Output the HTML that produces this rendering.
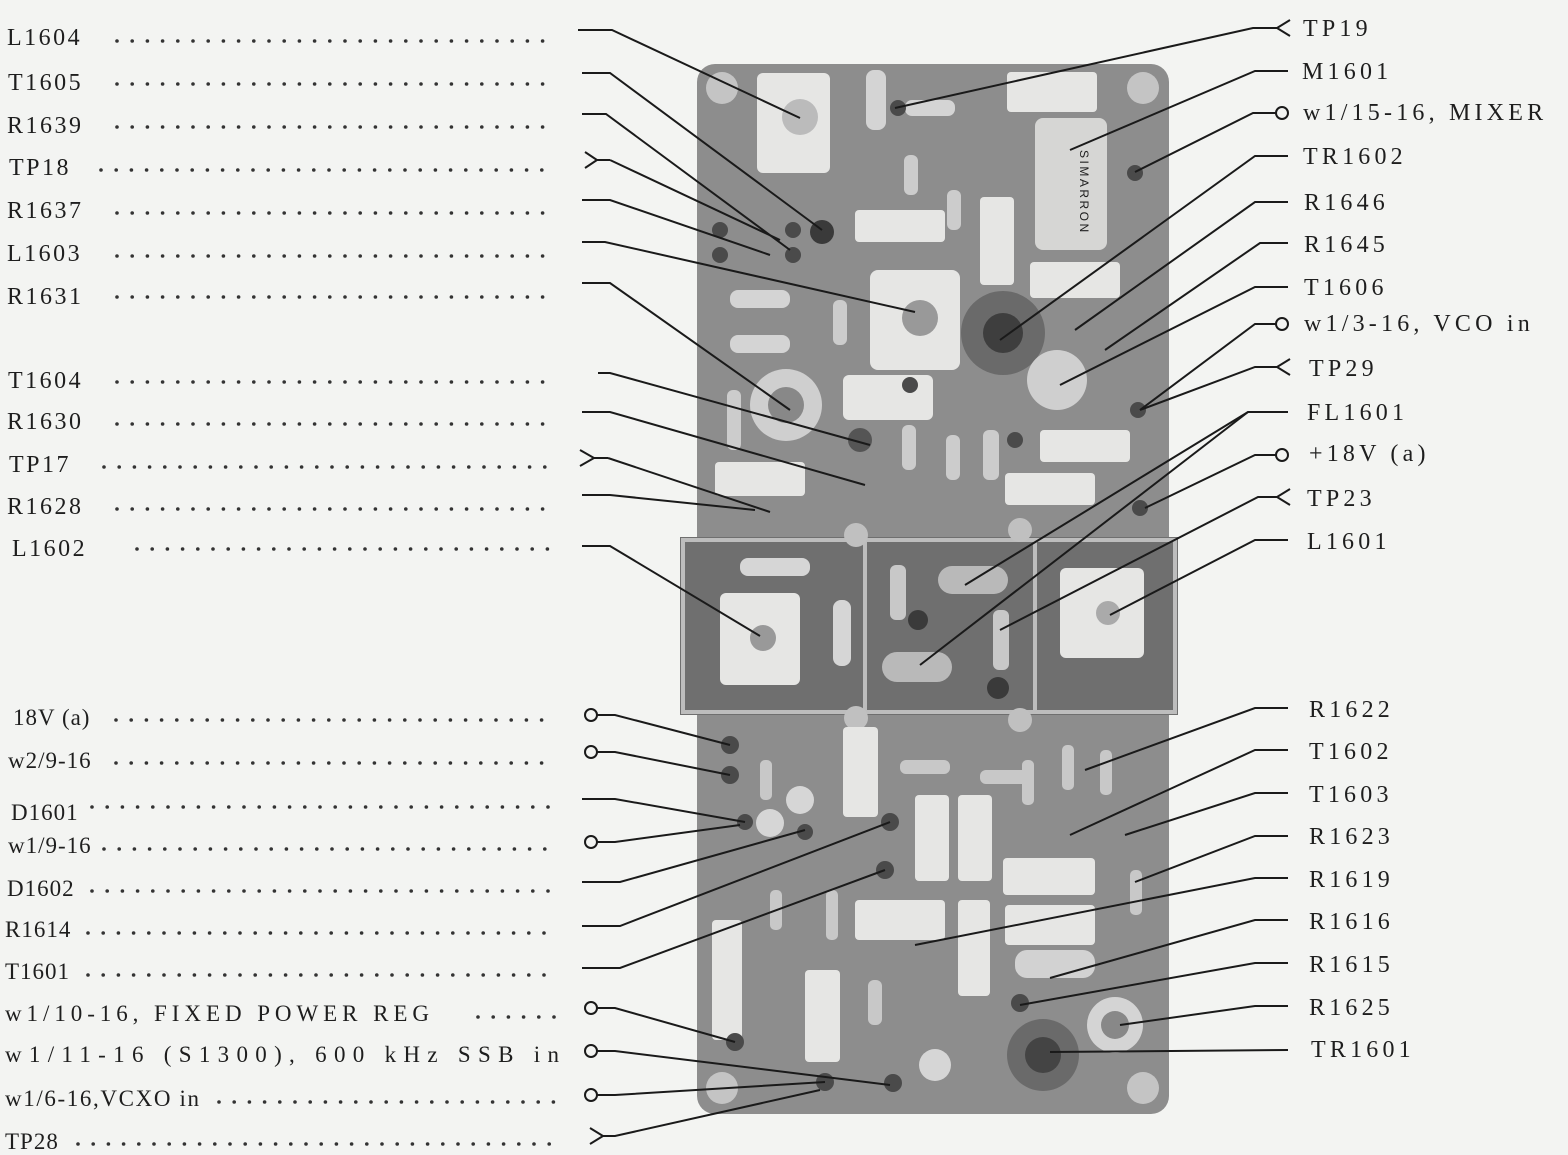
<!DOCTYPE html>
<html><head><meta charset="utf-8"><style>
html,body{margin:0;padding:0;background:#f3f4f2;}
svg{display:block}
text{font-family:"Liberation Serif",serif;font-size:24px;fill:#1e1e1e;letter-spacing:2.5px}
.b text{font-size:23px;letter-spacing:1px}
.r text{letter-spacing:4.2px}
.d{stroke:#333;stroke-width:3.6;stroke-linecap:round;stroke-dasharray:0 15.2}
.l{stroke:#1a1a1a;stroke-width:2;fill:none}
.w{fill:#e6e6e4}
.h{fill:#3a3a3a}
</style></head><body>
<svg width="1568" height="1155" viewBox="0 0 1568 1155">
<rect width="1568" height="1155" fill="#f3f4f2"/>
<!-- board -->
<rect x="697" y="64" width="472" height="1050" rx="18" fill="#8d8d8d"/>
<circle cx="722" cy="88" r="16" fill="#c4c4c4"/><circle cx="1143" cy="88" r="16" fill="#c4c4c4"/>
<circle cx="722" cy="1088" r="16" fill="#c4c4c4"/><circle cx="1143" cy="1088" r="16" fill="#c4c4c4"/>
<rect class="w" x="757" y="73" width="73" height="100" rx="6"/>
<circle cx="800" cy="117" r="18" fill="#bbb"/>
<rect x="1035" y="118" width="72" height="132" rx="8" fill="#d6d6d4"/>
<text x="1080" y="150" transform="rotate(90 1080 150)" style="font-size:12px;font-family:'Liberation Sans',sans-serif">SIMARRON</text>
<rect class="w" x="1007" y="72" width="90" height="40" rx="4"/>
<rect class="w" x="855" y="210" width="90" height="32" rx="4"/>
<rect class="w" x="980" y="197" width="34" height="88" rx="4"/>
<rect class="w" x="1030" y="262" width="90" height="36" rx="4"/>
<rect class="w" x="870" y="270" width="90" height="100" rx="8"/>
<circle cx="920" cy="318" r="18" fill="#999"/>
<circle cx="1003" cy="333" r="42" fill="#6a6a6a"/><circle cx="1003" cy="333" r="20" fill="#3e3e3e"/>
<circle cx="1057" cy="380" r="30" fill="#cfcfcf"/>
<circle cx="786" cy="405" r="36" fill="#cfcfcf"/><circle cx="786" cy="405" r="18" fill="#888"/>
<rect class="w" x="843" y="375" width="90" height="45" rx="6"/>
<rect class="w" x="1040" y="430" width="90" height="32" rx="4"/>
<rect class="w" x="715" y="462" width="90" height="34" rx="4"/>
<rect class="w" x="1005" y="473" width="90" height="32" rx="4"/>
<rect x="730" y="290" width="60" height="18" rx="8" fill="#d4d4d4"/>
<rect x="730" y="335" width="60" height="18" rx="8" fill="#d4d4d4"/>
<rect x="905" y="100" width="50" height="16" rx="7" fill="#d4d4d4"/>
<rect x="866" y="70" width="20" height="60" rx="8" fill="#d4d4d4"/>
<rect x="904" y="155" width="14" height="40" rx="6" fill="#ccc"/>
<rect x="947" y="190" width="14" height="40" rx="6" fill="#ccc"/>
<rect x="833" y="300" width="14" height="45" rx="6" fill="#ccc"/>
<rect x="902" y="425" width="14" height="45" rx="6" fill="#ccc"/>
<rect x="946" y="435" width="14" height="45" rx="6" fill="#ccc"/>
<rect x="983" y="430" width="16" height="50" rx="6" fill="#ccc"/>
<rect x="727" y="390" width="14" height="60" rx="6" fill="#ccc"/>
<circle cx="822" cy="232" r="12" class="h"/><circle cx="860" cy="440" r="12" fill="#555"/>
<g fill="#4a4a4a"><circle cx="720" cy="230" r="8"/><circle cx="720" cy="255" r="8"/><circle cx="793" cy="230" r="8"/><circle cx="793" cy="255" r="8"/><circle cx="898" cy="108" r="8"/><circle cx="1135" cy="173" r="8"/><circle cx="1138" cy="410" r="8"/><circle cx="1140" cy="508" r="8"/><circle cx="910" cy="385" r="8"/><circle cx="1015" cy="440" r="8"/></g>
<!-- shield box -->
<rect x="680" y="537" width="498" height="178" fill="#6f6f6f"/>
<rect x="683" y="540" width="492" height="172" fill="none" stroke="#bdbdbd" stroke-width="4"/>
<line x1="865" y1="540" x2="865" y2="712" stroke="#bdbdbd" stroke-width="4"/>
<line x1="1035" y1="540" x2="1035" y2="712" stroke="#bdbdbd" stroke-width="4"/>
<rect class="w" x="720" y="593" width="80" height="92" rx="6"/>
<circle cx="763" cy="638" r="13" fill="#999"/>
<rect class="w" x="1060" y="568" width="84" height="90" rx="6"/>
<circle cx="1108" cy="613" r="12" fill="#aaa"/>
<rect x="740" y="558" width="70" height="18" rx="8" fill="#d6d6d6"/>
<rect x="833" y="600" width="18" height="66" rx="8" fill="#d6d6d6"/>
<rect x="890" y="565" width="16" height="55" rx="6" fill="#c8c8c8"/>
<rect x="938" y="566" width="70" height="28" rx="14" fill="#b9b9b9"/>
<rect x="882" y="652" width="70" height="30" rx="15" fill="#b9b9b9"/>
<rect x="993" y="610" width="16" height="60" rx="6" fill="#c8c8c8"/>
<circle cx="918" cy="620" r="10" class="h"/><circle cx="998" cy="688" r="11" class="h"/>
<circle cx="856" cy="535" r="12" fill="#c0c0c0"/><circle cx="1020" cy="530" r="12" fill="#c0c0c0"/>
<circle cx="856" cy="718" r="12" fill="#c0c0c0"/><circle cx="1020" cy="720" r="12" fill="#c0c0c0"/>
<!-- bottom components -->
<rect class="w" x="843" y="727" width="35" height="90" rx="4"/>
<rect class="w" x="915" y="795" width="34" height="86" rx="4"/>
<rect class="w" x="958" y="795" width="34" height="86" rx="4"/>
<rect class="w" x="1003" y="858" width="92" height="37" rx="4"/>
<rect class="w" x="855" y="900" width="90" height="40" rx="4"/>
<rect class="w" x="958" y="900" width="32" height="96" rx="4"/>
<rect class="w" x="1005" y="905" width="90" height="40" rx="4"/>
<rect class="w" x="805" y="970" width="35" height="92" rx="4"/>
<rect class="w" x="712" y="920" width="30" height="120" rx="4"/>
<rect x="1015" y="950" width="80" height="28" rx="12" fill="#d2d2d2"/>
<circle cx="1115" cy="1025" r="28" fill="#d4d4d4"/><circle cx="1115" cy="1025" r="14" fill="#888"/>
<circle cx="1043" cy="1055" r="36" fill="#6a6a6a"/><circle cx="1043" cy="1055" r="18" fill="#444"/>
<circle cx="770" cy="823" r="14" fill="#d6d6d6"/><circle cx="800" cy="800" r="14" fill="#d6d6d6"/>
<circle cx="935" cy="1065" r="16" fill="#d6d6d6"/>
<g fill="#c8c8c8"><rect x="760" y="760" width="12" height="40" rx="5"/><rect x="1022" y="760" width="12" height="45" rx="5"/><rect x="1062" y="745" width="12" height="45" rx="5"/><rect x="1100" y="750" width="12" height="45" rx="5"/><rect x="900" y="760" width="50" height="14" rx="6"/><rect x="980" y="770" width="50" height="14" rx="6"/><rect x="868" y="980" width="14" height="45" rx="6"/><rect x="770" y="890" width="12" height="40" rx="5"/><rect x="826" y="890" width="12" height="50" rx="5"/><rect x="1130" y="870" width="12" height="45" rx="5"/></g>
<g fill="#4a4a4a"><circle cx="730" cy="745" r="9"/><circle cx="730" cy="775" r="9"/><circle cx="890" cy="822" r="9"/><circle cx="885" cy="870" r="9"/><circle cx="735" cy="1042" r="9"/><circle cx="893" cy="1083" r="9"/><circle cx="825" cy="1082" r="9"/><circle cx="1020" cy="1003" r="9"/><circle cx="745" cy="822" r="8"/><circle cx="805" cy="832" r="8"/></g>

<!-- left labels -->
<g>
<text x="7" y="45">L1604</text><line class="d" x1="117" y1="41" x2="555" y2="41"/>
<text x="8" y="90">T1605</text><line class="d" x1="117" y1="84" x2="555" y2="84"/>
<text x="7" y="133">R1639</text><line class="d" x1="117" y1="127" x2="555" y2="127"/>
<text x="9" y="175">TP18</text><line class="d" x1="101" y1="170" x2="555" y2="170"/>
<text x="7" y="218">R1637</text><line class="d" x1="117" y1="213" x2="555" y2="213"/>
<text x="7" y="261">L1603</text><line class="d" x1="117" y1="256" x2="555" y2="256"/>
<text x="7" y="304">R1631</text><line class="d" x1="117" y1="297" x2="555" y2="297"/>
<text x="8" y="388">T1604</text><line class="d" x1="117" y1="382" x2="555" y2="382"/>
<text x="7" y="429">R1630</text><line class="d" x1="117" y1="424" x2="555" y2="424"/>
<text x="9" y="472">TP17</text><line class="d" x1="104" y1="467" x2="555" y2="467"/>
<text x="7" y="514">R1628</text><line class="d" x1="117" y1="509" x2="555" y2="509"/>
<text x="12" y="556">L1602</text><line class="d" x1="137" y1="549" x2="560" y2="549"/>
</g>
<g class="b">
<text x="13" y="725">18V (a)</text><line class="d" x1="116" y1="720" x2="555" y2="720"/>
<text x="8" y="768">w2/9-16</text><line class="d" x1="116" y1="763" x2="555" y2="763"/>
<text x="11" y="820">D1601</text><line class="d" x1="92" y1="807" x2="555" y2="807"/>
<text x="8" y="853">w1/9-16</text><line class="d" x1="104" y1="849" x2="555" y2="849"/>
<text x="7" y="896">D1602</text><line class="d" x1="92" y1="891" x2="555" y2="891"/>
<text x="5" y="937">R1614</text><line class="d" x1="88" y1="933" x2="555" y2="933"/>
<text x="5" y="979">T1601</text><line class="d" x1="88" y1="975" x2="555" y2="975"/>
<text x="5" y="1021" textLength="425">w1/10-16, FIXED POWER REG</text><line class="d" x1="478" y1="1017" x2="555" y2="1017"/>
<text x="5" y="1062" textLength="555">w1/11-16 (S1300), 600 kHz SSB in</text>
<text x="5" y="1106" textLength="195">w1/6-16,VCXO in</text><line class="d" x1="219" y1="1102" x2="555" y2="1102"/>
<text x="5" y="1149">TP28</text><line class="d" x1="78" y1="1144" x2="555" y2="1144"/>
</g>
<!-- left connectors -->
<g class="l">
<polyline points="578,30 612,30 800,118"/>
<polyline points="582,73 610,73 822,230"/>
<polyline points="582,114 606,114 790,250"/>
<polyline points="610,160 780,240"/><path d="M585,152 L597,160 L585,168 M597,160 L610,160"/>
<polyline points="582,200 610,200 770,255"/>
<polyline points="582,242 605,242 915,312"/>
<polyline points="582,283 610,283 790,410"/>
<polyline points="598,373 610,373 870,445"/>
<polyline points="582,412 610,412 865,485"/>
<polyline points="608,458 770,512"/><path d="M580,450 L594,458 L580,466 M594,458 L608,458"/>
<polyline points="582,495 610,495 755,510"/>
<polyline points="582,546 610,546 760,636"/>
<circle cx="591" cy="715" r="6"/><polyline points="597,715 615,715 730,745"/>
<circle cx="591" cy="752" r="6"/><polyline points="597,752 615,752 730,775"/>
<polyline points="582,799 615,799 745,822"/>
<circle cx="591" cy="842" r="6"/><polyline points="597,842 615,842 740,825"/>
<polyline points="582,882 620,882 805,830"/>
<polyline points="582,926 620,926 890,822"/>
<polyline points="582,968 620,968 885,870"/>
<circle cx="591" cy="1008" r="6"/><polyline points="597,1008 615,1008 735,1042"/>
<circle cx="591" cy="1051" r="6"/><polyline points="597,1051 615,1051 890,1085"/>
<circle cx="591" cy="1095" r="6"/><polyline points="597,1095 615,1095 825,1082"/>
<path d="M590,1128 L603,1136 L590,1144 M603,1136 L615,1136 L820,1090"/>
</g>
<!-- right labels -->
<g class="r">
<text x="1303" y="36">TP19</text>
<text x="1302" y="79">M1601</text>
<text x="1303" y="120">w1/15-16, MIXER</text>
<text x="1303" y="164">TR1602</text>
<text x="1304" y="210">R1646</text>
<text x="1304" y="252">R1645</text>
<text x="1304" y="295">T1606</text>
<text x="1304" y="331">w1/3-16, VCO in</text>
<text x="1309" y="376">TP29</text>
<text x="1307" y="420">FL1601</text>
<text x="1309" y="461">+18V (a)</text>
<text x="1307" y="506">TP23</text>
<text x="1307" y="549">L1601</text>
<text x="1309" y="717">R1622</text>
<text x="1309" y="759">T1602</text>
<text x="1309" y="802">T1603</text>
<text x="1309" y="844">R1623</text>
<text x="1309" y="887">R1619</text>
<text x="1309" y="929">R1616</text>
<text x="1309" y="972">R1615</text>
<text x="1309" y="1015">R1625</text>
<text x="1311" y="1057">TR1601</text>
</g>
<g class="l">
<path d="M1290,20 L1277,28 L1290,36 M1277,28 L1253,28 L895,108"/>
<polyline points="1288,71 1255,71 1070,150"/>
<circle cx="1282" cy="113" r="6"/><polyline points="1276,113 1253,113 1135,172"/>
<polyline points="1288,156 1255,156 1000,340"/>
<polyline points="1288,202 1255,202 1075,330"/>
<polyline points="1288,243 1260,243 1105,350"/>
<polyline points="1288,287 1255,287 1060,385"/>
<circle cx="1282" cy="324" r="6"/><polyline points="1276,324 1255,324 1140,410"/>
<path d="M1290,359 L1277,367 L1290,375 M1277,367 L1255,367 L1140,410"/>
<polyline points="1288,412 1248,412 965,585"/><polyline points="1248,412 920,665"/>
<circle cx="1282" cy="455" r="6"/><polyline points="1276,455 1255,455 1145,508"/>
<path d="M1290,489 L1277,497 L1290,505 M1277,497 L1258,497 L1000,630"/>
<polyline points="1288,540 1255,540 1110,615"/>
<polyline points="1288,708 1255,708 1085,770"/>
<polyline points="1288,750 1255,750 1070,835"/>
<polyline points="1288,793 1255,793 1125,835"/>
<polyline points="1288,836 1255,836 1135,882"/>
<polyline points="1288,878 1255,878 915,945"/>
<polyline points="1288,920 1255,920 1050,978"/>
<polyline points="1288,963 1255,963 1020,1005"/>
<polyline points="1288,1006 1255,1006 1120,1025"/>
<polyline points="1288,1050 1050,1052"/>
</g>
</svg>
</body></html>
